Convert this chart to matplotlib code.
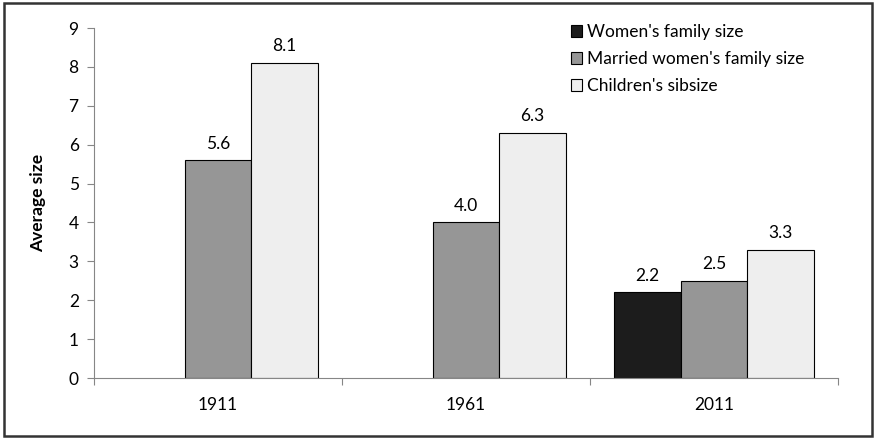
import numpy as np
import matplotlib.pyplot as plt
from matplotlib.patches import Rectangle

plt.rcParams['font.family'] = ['Lato', 'DejaVu Sans']

years = ['1911', '1961', '2011']
women = [np.nan, np.nan, 2.2]
married = [5.6, 4.0, 2.5]
children = [8.1, 6.3, 3.3]

labels = ["Women's family size", "Married women's family size", "Children's sibsize"]
colors = ['#1c1c1c', '#969696', '#eeeeee']

fig = plt.figure(figsize=(8.75, 4.4), dpi=100)
ax = fig.add_axes([94 / 875, 1 - 378 / 440, (838 - 94) / 875, 350 / 440])

x = np.arange(len(years))
w = 0.268
for i, (vals, col, lab) in enumerate(zip([women, married, children], colors, labels)):
    pos = x + (i - 1) * w
    ax.bar(pos, vals, w, color=col, edgecolor='black', linewidth=0.8, label=lab)
    for p, v in zip(pos, vals):
        if not np.isnan(v):
            ax.text(p, v + 0.22, f'{v:.1f}', ha='center', va='bottom', fontsize=12.5)

ax.set_xlim(-0.5, 2.5)
ax.set_ylim(0, 9)
ax.set_yticks(range(10))
# group boundaries as major ticks, year labels as minor ticks
ax.set_xticks([-0.5, 0.5, 1.5, 2.5])
ax.set_xticklabels([])
ax.set_xticks(x, minor=True)
ax.set_xticklabels(years, minor=True)
ax.tick_params(axis='x', which='minor', length=0, pad=14, labelsize=12.5)
ax.tick_params(axis='x', which='major', direction='out', length=5, color='#868686')
ax.tick_params(axis='y', direction='out', length=5, color='#868686', labelsize=12.5, pad=6)
for s in ['top', 'right']:
    ax.spines[s].set_visible(False)
for s in ['left', 'bottom']:
    ax.spines[s].set_color('#868686')
ax.set_ylabel('Average size', fontsize=12.5, fontweight='bold', labelpad=16)

ax.legend(loc='upper left', bbox_to_anchor=(0.62, 1.055), frameon=False, fontsize=12.5,
          handlelength=0.65, handleheight=0.65, handletextpad=0.25, labelspacing=0.62)

fig.patches.append(Rectangle((0.004, 0.008), 0.992, 0.985, transform=fig.transFigure,
                             fill=False, edgecolor='#333333', linewidth=1.8))

fig.savefig('out.png', dpi=100)
